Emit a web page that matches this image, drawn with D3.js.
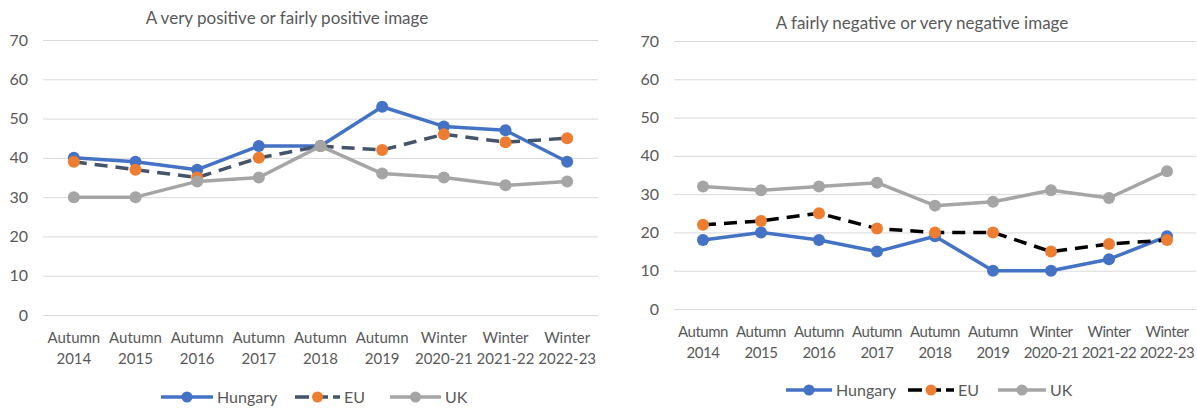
<!DOCTYPE html>
<html>
<head>
<meta charset="utf-8">
<script src="https://cdn.jsdelivr.net/npm/d3@7"></script>
<style>
  body { margin: 0; background: #fff; }
  text { font-family: Lato, "Noto Sans", sans-serif; fill: #595959; }
</style>
</head>
<body>
<svg width="1197" height="408"></svg>
<script>
const categories = ["Autumn 2014", "Autumn 2015", "Autumn 2016", "Autumn 2017", "Autumn 2018",
                    "Autumn 2019", "Winter 2020-21", "Winter 2021-22", "Winter 2022-23"];
const yTicks = [0, 10, 20, 30, 40, 50, 60, 70];

const positiveHungary = [40, 39, 37, 43, 43, 53, 48, 47, 39];
const positiveEU      = [39, 37, 35, 40, 43, 42, 46, 44, 45];
const positiveUK      = [30, 30, 34, 35, 43, 36, 35, 33, 34];

const negativeHungary = [18, 20, 18, 15, 19, 10, 10, 13, 19];
const negativeEU      = [22, 23, 25, 21, 20, 20, 15, 17, 18];
const negativeUK      = [32, 31, 32, 33, 27, 28, 31, 29, 36];

const svg = d3.select("svg");

function drawChart(cfg) {
  const g = svg.append("g");

  const x = d3.scaleBand().domain(categories).range([cfg.left, cfg.right]);
  const y = d3.scaleLinear().domain([0, 70]).range([cfg.bottom, cfg.top]);

  // title
  g.append("text")
    .attr("x", cfg.titleX)
    .attr("y", cfg.titleY)
    .attr("text-anchor", "middle")
    .attr("font-size", "17px")
    .text(cfg.title);

  // y axis + gridlines
  const yAxis = g.append("g")
    .attr("transform", "translate(" + cfg.left + ",0)")
    .call(d3.axisLeft(y).tickValues(yTicks).tickSize(-(cfg.right - cfg.left)).tickPadding(15));
  yAxis.select(".domain").remove();
  yAxis.selectAll("line").attr("stroke", "#d9d9d9").attr("stroke-width", 1);
  yAxis.selectAll("text").attr("font-size", "16px").attr("fill", "#595959")
    .style("font-family", "Lato, 'Noto Sans', sans-serif");

  // x axis labels, two lines each
  const xAxis = g.append("g")
    .attr("transform", "translate(0," + cfg.bottom + ")")
    .call(d3.axisBottom(x).tickSize(0).tickPadding(0));
  xAxis.select(".domain").remove();
  xAxis.selectAll("text")
    .attr("font-size", "15px").attr("fill", "#595959")
    .attr("letter-spacing", cfg.labelSpacing)
    .style("font-family", "Lato, 'Noto Sans', sans-serif")
    .attr("dy", null)
    .attr("y", 0)
    .each(function (d) {
      const parts = d.split(" ");
      const t = d3.select(this).text(null);
      t.append("tspan").attr("x", 0).attr("y", cfg.label1).text(parts[0]);
      t.append("tspan").attr("x", 0).attr("y", cfg.label2).text(parts[1]);
    });

  const cx = (d, i) => x(categories[i]) + x.bandwidth() / 2;
  const line = d3.line().x((d, i) => cx(d, i)).y(d => y(d));

  cfg.series.forEach(s => {
    g.append("path")
      .datum(s.values)
      .attr("fill", "none")
      .attr("stroke", s.lineColor)
      .attr("stroke-width", 3.5)
      .attr("stroke-dasharray", s.dash || null)
      .attr("stroke-linejoin", "round")
      .attr("d", line);
    g.selectAll(null)
      .data(s.values)
      .enter()
      .append("circle")
      .attr("cx", cx)
      .attr("cy", d => y(d))
      .attr("r", 6)
      .attr("fill", s.markerColor);
  });

  // legend
  cfg.series.forEach((s, i) => {
    const lx = cfg.legendX[i];
    const lg = g.append("g").attr("transform", "translate(" + lx + "," + cfg.legendY + ")");
    lg.append("line")
      .attr("x1", 0).attr("x2", s.legendW)
      .attr("stroke", s.lineColor).attr("stroke-width", 3.5)
      .attr("stroke-dasharray", s.dash ? "14,5" : null);
    lg.append("circle").attr("cx", s.legendW / 2).attr("r", 5.5).attr("fill", s.markerColor);
    lg.append("text")
      .attr("x", s.legendW + 4)
      .attr("y", 5.5)
      .attr("font-size", "16px")
      .text(s.name);
  });
}

drawChart({
  title: "A very positive or fairly positive image",
  titleX: 287, titleY: 24,
  left: 43, right: 598, top: 40, bottom: 315,
  label1: 28, label2: 49, labelSpacing: 0,
  legendX: [161, 295, 390], legendY: 397,
  series: [
    { name: "Hungary", values: positiveHungary, lineColor: "#4472c4", markerColor: "#4472c4", legendW: 52 },
    { name: "EU", values: positiveEU, lineColor: "#44546a", markerColor: "#ed7d31", dash: "13,8", legendW: 45 },
    { name: "UK", values: positiveUK, lineColor: "#a5a5a5", markerColor: "#a5a5a5", legendW: 51 }
  ]
});

drawChart({
  title: "A fairly negative or very negative image",
  titleX: 922, titleY: 29,
  left: 674, right: 1196, top: 41, bottom: 309,
  label1: 28, label2: 49, labelSpacing: -0.5,
  legendX: [786, 908, 998], legendY: 390,
  series: [
    { name: "Hungary", values: negativeHungary, lineColor: "#4472c4", markerColor: "#4472c4", legendW: 46 },
    { name: "EU", values: negativeEU, lineColor: "#000000", markerColor: "#ed7d31", dash: "13,8", legendW: 46 },
    { name: "UK", values: negativeUK, lineColor: "#a5a5a5", markerColor: "#a5a5a5", legendW: 48 }
  ]
});
</script>
</body>
</html>
